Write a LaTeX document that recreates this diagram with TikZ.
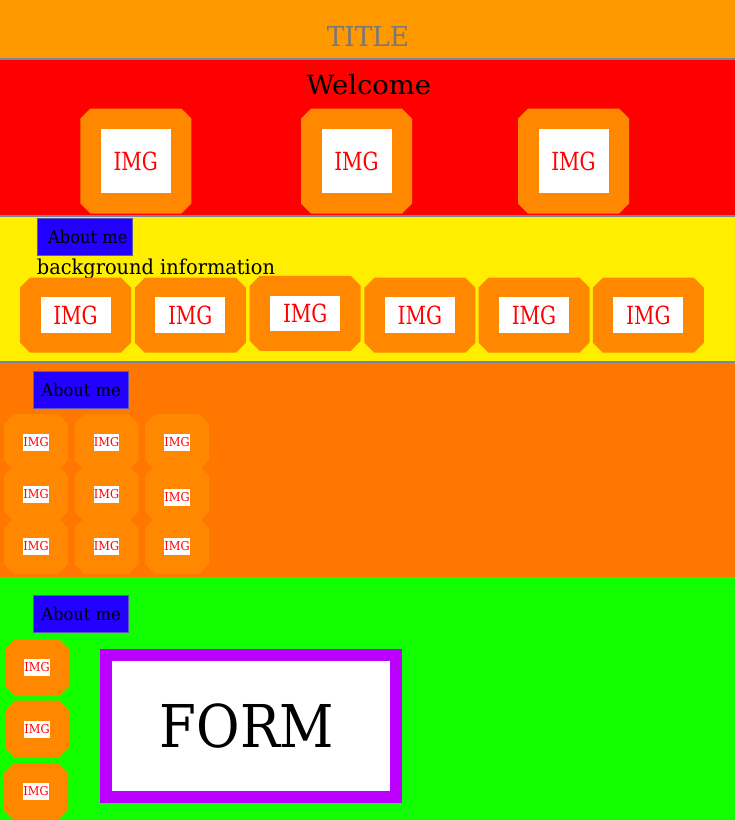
\documentclass[tikz,border=0pt]{standalone}
\usepackage{fontspec}
\setmainfont{DejaVu Serif Condensed}
\newfontfamily\titlefont[FakeStretch=1.067]{DejaVu Serif Condensed}
\newfontfamily\welcomefont[FakeStretch=1.147]{DejaVu Serif Condensed}
\newfontfamily\infofont[FakeStretch=1.05]{DejaVu Serif Condensed}
\newfontfamily\imgfont[FakeStretch=0.89]{DejaVu Serif Condensed}
\newfontfamily\aboutfont[FakeStretch=1.03]{DejaVu Serif Condensed}
\usepackage{tikz}

\definecolor{titleband}{HTML}{FF9900}
\definecolor{welcomeband}{HTML}{FF0000}
\definecolor{infoband}{HTML}{FFEE00}
\definecolor{gridband}{HTML}{FF7700}
\definecolor{formband}{HTML}{11FF00}
\definecolor{tileorange}{HTML}{FF8800}
\definecolor{sepgray}{HTML}{7A84A0}
\definecolor{titlegray}{HTML}{787878}
\definecolor{aboutblue}{HTML}{2200FF}
\definecolor{aboutedge}{HTML}{5A5AB4}
\definecolor{formpurple}{HTML}{BB00FF}

% octagon tile: name, x, y, width, height, chamfer
\newcommand{\tilebg}[6]{%
  \coordinate (#1) at (#2,#3);
  \fill[tileorange] (#1) ++({-(#4)/2+#6},{-(#5)/2}) -- ++({#4-2*#6},0) -- ++(#6,#6) -- ++(0,{#5-2*#6})
    -- ++(-#6,#6) -- ++({-(#4)+2*#6},0) -- ++(-#6,-#6) -- ++(0,{-(#5)+2*#6}) -- cycle;
}

\begin{document}
\begin{tikzpicture}[x=1pt, y=-1pt,
    bigimg/.style={fill=white, text=red, inner sep=0pt, minimum width=70pt, minimum height=64pt, font=\imgfont\fontsize{25}{28}\selectfont},
    midimg/.style={bigimg, minimum height=35.5pt},
    smallimg/.style={fill=white, text=red, inner sep=0pt, minimum width=24pt, minimum height=17pt, font=\aboutfont\fontsize{12.3}{14}\selectfont},
    aboutbox/.style={fill=aboutblue, draw=aboutedge, line width=0.8pt, inner sep=0pt, minimum width=95pt, minimum height=37pt, font=\aboutfont\fontsize{17.6}{20}\selectfont}]
    \useasboundingbox (0,0) rectangle (735,820);

    % bands
    \fill[titleband] (0,0) rectangle (735,58);
    \fill[welcomeband] (0,58) rectangle (735,216);
    \fill[infoband] (0,216) rectangle (735,362);
    \fill[gridband] (0,362) rectangle (735,577);
    \fill[formband] (0,577) rectangle (735,820);
    \fill[sepgray] (0,57.5) rectangle (735,59.5);
    \fill[sepgray] (0,215) rectangle (735,217);
    \fill[sepgray] (0,360.8) rectangle (735,362.8);

    % title and welcome
    \node (title) at (368,46) [anchor=base, inner sep=0pt, text=titlegray, font=\titlefont\fontsize{27.5}{30}\selectfont] {TITLE};
    \node (welcome) at (368.7,94.3) [anchor=base, inner sep=0pt, font=\welcomefont\fontsize{26.5}{30}\selectfont] {Welcome};

    \tilebg{wt1}{135.8}{161}{111}{105}{10}
    \tilebg{wt2}{356.5}{161}{111}{105}{10}
    \tilebg{wt3}{573.5}{161}{111}{105}{10}
    \node[bigimg] (wi1) at (wt1) {IMG};
    \node[bigimg] (wi2) at (wt2) {IMG};
    \node[bigimg] (wi3) at (wt3) {IMG};

    % background information
    \node[aboutbox] (about1) at (85.3,236.8) {\hspace*{5pt}About me};
    \node (info) at (36.7,274.3) [anchor=base west, inner sep=0pt, font=\infofont\fontsize{20.5}{24}\selectfont] {background information};

    \tilebg{bt1}{75.5}{315.2}{111}{75}{10}
    \tilebg{bt2}{190.3}{315.2}{111}{75}{10}
    \tilebg{bt3}{305.2}{313.3}{111}{75}{10}
    \tilebg{bt4}{419.9}{315.2}{111}{75}{10}
    \tilebg{bt5}{534}{315.2}{111}{75}{10}
    \tilebg{bt6}{648.4}{315.2}{111}{75}{10}
    \node[midimg] (bi1) at (bt1) {IMG};
    \node[midimg] (bi2) at (bt2) {IMG};
    \node[midimg] (bi3) at (bt3) {IMG};
    \node[midimg] (bi4) at (bt4) {IMG};
    \node[midimg] (bi5) at (bt5) {IMG};
    \node[midimg] (bi6) at (bt6) {IMG};

    % grid of images
    \node[aboutbox] (about2) at (81,389.5) {About me};

    \tilebg{gt11}{36}{442}{64}{56}{10}
    \tilebg{gt12}{106.5}{442}{64}{56}{10}
    \tilebg{gt13}{177}{442}{64}{56}{10}
    \tilebg{gt21}{36}{493.5}{64}{56}{10}
    \tilebg{gt22}{106.5}{493.5}{64}{56}{10}
    \tilebg{gt23}{177}{493.5}{64}{56}{10}
    \tilebg{gt31}{36}{546}{64}{56}{10}
    \tilebg{gt32}{106.5}{546}{64}{56}{10}
    \tilebg{gt33}{177}{546}{64}{56}{10}
    \node[smallimg] (gi11) at (36,442.5) {IMG};
    \node[smallimg] (gi12) at (106.5,442.5) {IMG};
    \node[smallimg] (gi13) at (177,442.5) {IMG};
    \node[smallimg] (gi21) at (36,494.5) {IMG};
    \node[smallimg] (gi22) at (106.5,494.5) {IMG};
    \node[smallimg] (gi23) at (177,497.5) {IMG};
    \node[smallimg] (gi31) at (36,546) {IMG};
    \node[smallimg] (gi32) at (106.5,546) {IMG};
    \node[smallimg] (gi33) at (177,546) {IMG};

    % form
    \node[aboutbox] (about3) at (81,614) {About me};

    \tilebg{st1}{37}{667.5}{64}{57}{10}
    \tilebg{st2}{37}{729}{64}{57}{10}
    \tilebg{st3}{36}{791.5}{64}{57}{10}
    \node[smallimg] (si1) at (st1) {IMG};
    \node[smallimg] (si2) at (st2) {IMG};
    \node[smallimg] (si3) at (st3) {IMG};

    \node (form) at (251,726) [fill=white, draw=formpurple, line width=12pt, inner sep=0pt, minimum width=290pt, minimum height=142.5pt, font=\fontsize{59}{64}\selectfont] {\hspace*{-8pt}FORM};
\end{tikzpicture}
\end{document}
